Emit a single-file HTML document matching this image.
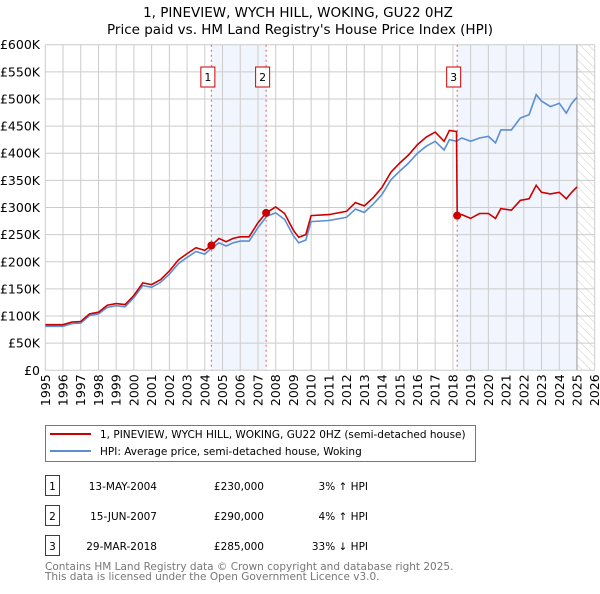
<!DOCTYPE html>
<html><head><meta charset="utf-8">
<style>
body{margin:0;background:#fff;width:600px;height:590px;overflow:hidden;font-family:"DejaVu Sans","Liberation Sans",sans-serif;}
svg text{font-family:"DejaVu Sans","Liberation Sans",sans-serif;}
</style></head>
<body>
<svg id="chart" width="600" height="590" viewBox="0 0 600 590">
<text x="298" y="17" font-size="13.5" text-anchor="middle" fill="#000">1, PINEVIEW, WYCH HILL, WOKING, GU22 0HZ</text>
<text x="300" y="34" font-size="13.5" text-anchor="middle" fill="#000">Price paid vs. HM Land Registry's House Price Index (HPI)</text>
<g id="plot"></g>
<g>
<rect x="45.5" y="425.5" width="430" height="36" fill="#fff" stroke="#777"/>
<line x1="50" y1="434" x2="91" y2="434" stroke="#cc0000" stroke-width="2"/>
<text x="100" y="438" font-size="10.5">1, PINEVIEW, WYCH HILL, WOKING, GU22 0HZ (semi-detached house)</text>
<line x1="50" y1="451" x2="91" y2="451" stroke="#5b8fd4" stroke-width="2"/>
<text x="100" y="455" font-size="10.5">HPI: Average price, semi-detached house, Woking</text>
</g>
<g font-size="10.5">
<rect x="45.5" y="475.5" width="14" height="20" fill="#fff" stroke="#c00"/>
<text x="52.5" y="490" text-anchor="middle">1</text>
<text x="157" y="490" text-anchor="end">13-MAY-2004</text>
<text x="264" y="490" text-anchor="end">£230,000</text>
<text x="368" y="490" text-anchor="end">3% ↑ HPI</text>
<rect x="45.5" y="505.5" width="14" height="20" fill="#fff" stroke="#c00"/>
<text x="52.5" y="520" text-anchor="middle">2</text>
<text x="157" y="520" text-anchor="end">15-JUN-2007</text>
<text x="264" y="520" text-anchor="end">£290,000</text>
<text x="368" y="520" text-anchor="end">4% ↑ HPI</text>
<rect x="45.5" y="535.5" width="14" height="20" fill="#fff" stroke="#c00"/>
<text x="52.5" y="550" text-anchor="middle">3</text>
<text x="157" y="550" text-anchor="end">29-MAR-2018</text>
<text x="264" y="550" text-anchor="end">£285,000</text>
<text x="368" y="550" text-anchor="end">33% ↓ HPI</text>
</g>
<text x="45" y="570" font-size="10.5" fill="#777">Contains HM Land Registry data © Crown copyright and database right 2025.</text>
<text x="45" y="580" font-size="10.5" fill="#777">This data is licensed under the Open Government Licence v3.0.</text>
</svg>
<script>
const hpiYears=[1995,1996,1996.5,1997,1997.5,1998,1998.5,1999,1999.5,2000,2000.5,2001,2001.5,2002,2002.5,2003,2003.5,2004,2004.4,2004.8,2005.2,2005.6,2006,2006.5,2007,2007.5,2008,2008.5,2009,2009.3,2009.7,2010,2011,2012,2012.5,2013,2013.5,2014,2014.5,2015,2015.5,2016,2016.5,2017,2017.5,2017.8,2018.2,2018.5,2019,2019.5,2020,2020.4,2020.7,2021.3,2021.8,2022.3,2022.7,2023,2023.5,2024,2024.4,2024.7,2025];
const hpiValues=[81,81,86,87,101,104,116,119,117,134,156,153,162,177,196,208,219,214,226,235,229,235,238,238,263,284,290,278,248,235,240,274,276,282,297,291,306,324,351,367,382,400,413,422,406,425,422,428,422,428,431,419,443,443,465,471,508,496,486,492,474,492,503];
const propYears=[1995,1996,1996.5,1997,1997.5,1998,1998.5,1999,1999.5,2000,2000.5,2001,2001.5,2002,2002.5,2003,2003.5,2004,2004.37,2004.8,2005.2,2005.6,2006,2006.5,2007,2007.46,2008,2008.5,2009,2009.3,2009.7,2010,2011,2012,2012.5,2013,2013.5,2014,2014.5,2015,2015.5,2016,2016.5,2017,2017.5,2017.8,2018.2,2018.24,2018.5,2019,2019.5,2020,2020.4,2020.7,2021.3,2021.8,2022.3,2022.7,2023,2023.5,2024,2024.4,2024.7,2025];
const propValues=[84,84,89,90,104,107,120,123,121,138,161,158,167,183,203,215,226,221,230,243,237,243,246,246,272,290,301,289,258,245,250,285,287,293,309,303,318,337,365,382,397,416,430,439,422,442,440,285,287,280,289,289,280,298,295,313,316,341,328,325,328,316,328,338];
const yTicks=[0,50,100,150,200,250,300,350,400,450,500,550,600];
const xTicks=[1995,1996,1997,1998,1999,2000,2001,2002,2003,2004,2005,2006,2007,2008,2009,2010,2011,2012,2013,2014,2015,2016,2017,2018,2019,2020,2021,2022,2023,2024,2025,2026];
const saleYears=[2004.37,2007.46,2018.24];
const salePrices=[230,290,285];
const saleLabels=["1","2","3"];

const NS="http://www.w3.org/2000/svg";
const L=45.3,R=594.7,T=44.7,B=370.3;
const x=v=>L+(v-1995)/31*(R-L);
const y=v=>B-v/600*(B-T);
const g=document.getElementById('plot');
function mk(tag,at,parent){const e=document.createElementNS(NS,tag);for(const k in at)e.setAttribute(k,at[k]);(parent||g).appendChild(e);return e;}
let e=mk('rect',{x:x(saleYears[0]),y:T,width:x(saleYears[1])-x(saleYears[0]),height:B-T,fill:'#eef3fc',opacity:0.8});


e=mk('rect',{x:x(saleYears[2]),y:T,width:x(2025)-x(saleYears[2]),height:B-T,fill:'#eef3fc',opacity:0.8});


const defs=mk('defs',{});
const pat=mk('pattern',{id:'hatch',width:6,height:6,patternUnits:'userSpaceOnUse',patternTransform:'rotate(-45)'},defs);
mk('line',{x1:0,y1:0,x2:0,y2:6,stroke:'#ccc','stroke-width':1},pat);
e=mk('rect',{x:x(2025),y:T,width:R-x(2025),height:B-T,fill:'url(#hatch)'});


yTicks.forEach(v=>{
 const l=mk('line',{x1:L,x2:R,y1:y(v),y2:y(v),stroke:'#ccc','stroke-width':1});
 
 
 const t=mk('text',{x:40,y:y(v)+4.5,'font-size':12.5,'text-anchor':'end'});
 t.textContent=v===0?'£0':'£'+v+'K';
 
 
});
xTicks.forEach(v=>{
 const l=mk('line',{x1:x(v),x2:x(v),y1:T,y2:B,stroke:'#ccc','stroke-width':1});
 
 
 const t=mk('text',{x:0,y:0,'font-size':12.5,'text-anchor':'end',transform:`translate(${x(v)+4.5},${B+4}) rotate(-90)`});
 t.textContent=v;
 
 
});
e=mk('line',{x1:x(2025),x2:x(2025),y1:T,y2:B,stroke:'#999','stroke-width':1});


saleYears.forEach((s,i)=>{
 const l=mk('line',{x1:x(s),x2:x(s),y1:T,y2:B,stroke:'#e06060','stroke-width':1,'stroke-dasharray':'2,3'});
 
 
});
let d=hpiYears.map((v,i)=>(i?'L':'M')+x(v).toFixed(1)+','+y(hpiValues[i]).toFixed(1)).join('');
e=mk('path',{d,fill:'none',stroke:'#5b8fd4','stroke-width':1.6});


d=propYears.map((v,i)=>(i?'L':'M')+x(v).toFixed(1)+','+y(propValues[i]).toFixed(1)).join('');
e=mk('path',{d,fill:'none',stroke:'#cc0000','stroke-width':1.6});


saleYears.forEach((s,i)=>{
 const c=mk('circle',{cx:x(s),cy:y(salePrices[i]),r:4,fill:'#cc0000'});
 
 
 const r=mk('rect',{x:x(s)-10.5,y:67,width:14,height:20,fill:'#fff',stroke:'#c00'});
 
 
 const t=mk('text',{x:x(s)-3.5,y:81,'font-size':11,'text-anchor':'middle'});
 t.textContent=saleLabels[i];
 
 
});
</script>
</body></html>
